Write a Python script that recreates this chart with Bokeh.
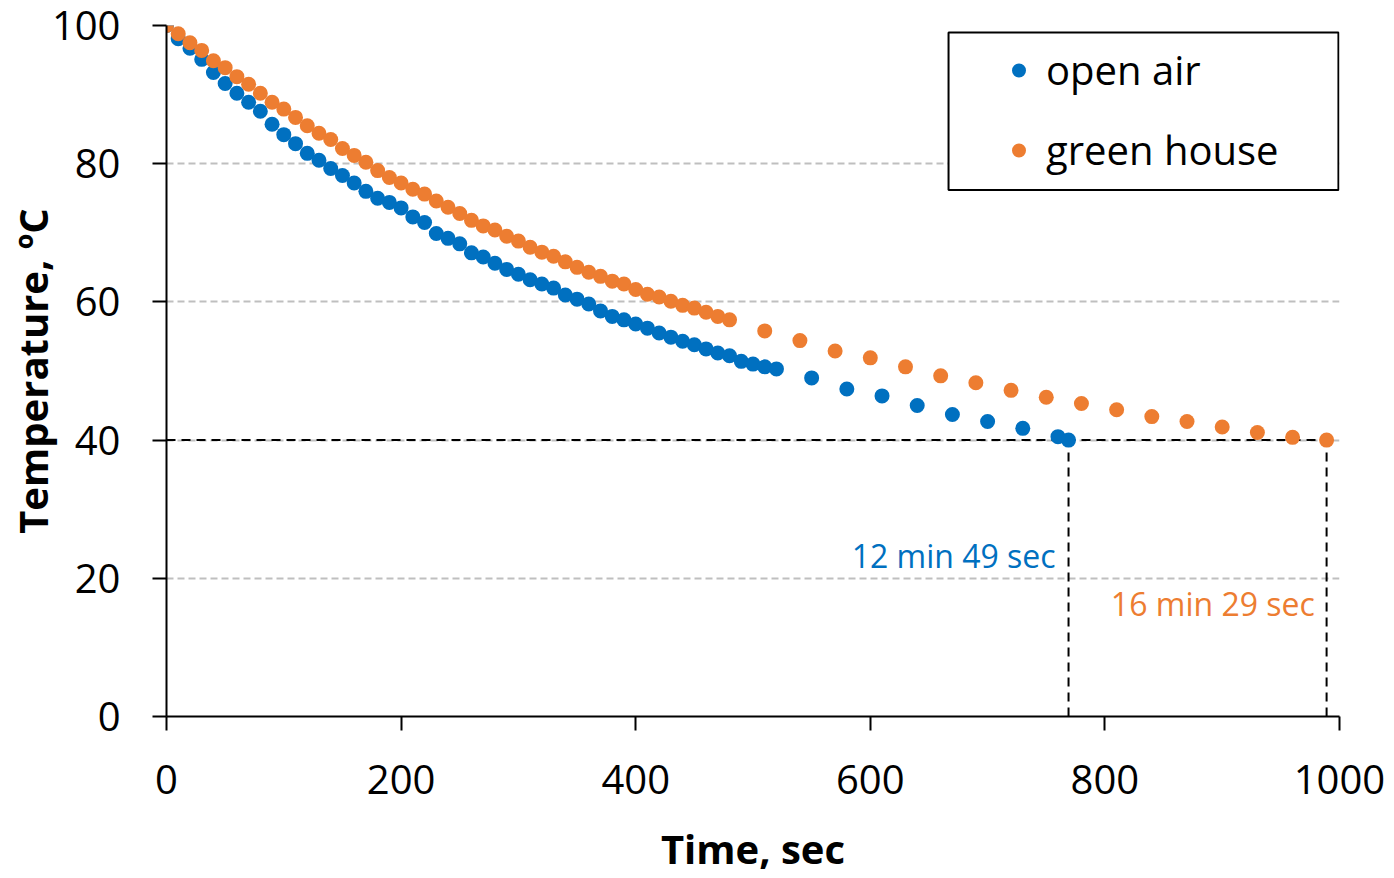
from bokeh.plotting import figure
from bokeh.models import Range1d, FixedTicker, Legend, LegendItem, BoxAnnotation
from bokeh.core.properties import value
from bokeh.embed import file_html
from bokeh.resources import INLINE

# ---- data ----
open_air_time = list(range(0, 521, 10)) + [550, 580, 610, 640, 670, 700, 730, 760, 769]
open_air_temp = [100.0, 98.1, 96.7, 95.1, 93.2, 91.6, 90.2, 88.9, 87.6, 85.7,
                 84.2, 82.9, 81.5, 80.5, 79.3, 78.3, 77.2, 76.0, 75.0, 74.4,
                 73.6, 72.3, 71.5, 69.9, 69.2, 68.4, 67.1, 66.5, 65.6, 64.7,
                 64.0, 63.2, 62.6, 62.0, 61.0, 60.4, 59.7, 58.7, 57.9, 57.4,
                 56.8, 56.2, 55.5, 54.9, 54.3, 53.8, 53.2, 52.6, 52.2, 51.4,
                 51.0, 50.6, 50.3,
                 49.0, 47.4, 46.4, 45.0, 43.7, 42.7, 41.7, 40.5, 40.0]

green_house_time = list(range(0, 481, 10)) + [510, 540, 570, 600, 630, 660, 690, 720,
                                               750, 780, 810, 840, 870, 900, 930, 960, 989]
green_house_temp = [100.0, 98.8, 97.5, 96.4, 94.9, 93.9, 92.6, 91.5, 90.2, 88.9,
                    87.9, 86.7, 85.5, 84.4, 83.5, 82.2, 81.2, 80.2, 79.0, 78.0,
                    77.2, 76.3, 75.6, 74.6, 73.7, 72.8, 71.8, 71.0, 70.4, 69.5,
                    68.8, 67.9, 67.2, 66.6, 65.8, 65.0, 64.3, 63.7, 63.0, 62.6,
                    61.8, 61.1, 60.7, 60.1, 59.5, 59.1, 58.5, 57.9, 57.4,
                    55.8, 54.4, 52.9, 51.9, 50.6, 49.3, 48.3, 47.2, 46.2,
                    45.3, 44.4, 43.4, 42.7, 41.9, 41.1, 40.4, 40.0]

threshold = 40
cross_open_air = 769      # 12 min 49 sec
cross_green_house = 989   # 16 min 29 sec
x_ticks = [0, 200, 400, 600, 800, 1000]
y_ticks = [0, 20, 40, 60, 80, 100]
x_title = "Time, sec"
y_title = "Temperature, \u00baC"

BLUE = "#0070C0"
ORANGE = "#ED7D31"
FONT = "Open Sans"

p = figure(width=1394, height=878, output_backend="svg", toolbar_location=None,
           x_range=Range1d(0, 1000), y_range=Range1d(0, 100),
           min_border_left=166, min_border_top=25, min_border_right=55,
           min_border_bottom=161)
p.outline_line_color = None

# grid
p.xgrid.grid_line_color = None
p.ygrid.ticker = FixedTicker(ticks=[20, 40, 60, 80, 100])
p.ygrid.grid_line_color = "#BFBFBF"
p.ygrid.grid_line_width = 2
p.ygrid.grid_line_dash = "7 4"

# axes
for ax in (p.xaxis[0], p.yaxis[0]):
    ax.axis_line_color = "black"
    ax.axis_line_width = 2
    ax.major_tick_line_color = "black"
    ax.major_tick_line_width = 2
    ax.major_tick_in = 0
    ax.major_tick_out = 14
    ax.minor_tick_line_color = None
    ax.major_label_text_font = FONT
    ax.major_label_text_font_size = "40px"
    ax.major_label_text_color = "black"
    ax.axis_label_text_font = FONT
    ax.axis_label_text_font_size = "40px"
    ax.axis_label_text_font_style = "bold"
    ax.axis_label_text_color = "black"

p.xaxis.ticker = FixedTicker(ticks=x_ticks)
p.yaxis.ticker = FixedTicker(ticks=y_ticks)
p.xaxis.axis_label = x_title
p.yaxis.axis_label = y_title
p.xaxis.major_label_standoff = 34
p.yaxis.major_label_standoff = 32
p.xaxis.axis_label_standoff = 24
p.yaxis.axis_label_standoff = -11

# threshold dashed lines
p.line([0, cross_green_house], [threshold, threshold], line_color="black",
       line_width=2, line_dash="9 6")
p.segment(x0=[cross_open_air, cross_green_house], y0=[0, 0],
          x1=[cross_open_air, cross_green_house], y1=[threshold, threshold],
          line_color="black", line_width=2, line_dash="9 6")

r_blue = p.scatter(open_air_time, open_air_temp, size=15, color=BLUE, line_color=None)
r_orange = p.scatter(green_house_time, green_house_temp, size=15, color=ORANGE, line_color=None)

# annotations
def mmss(s):
    return f"{s // 60} min {s % 60} sec"

p.text(x=[cross_open_air - 11], y=[23.3], text=[mmss(cross_open_air)],
       text_color=BLUE, text_font=value(FONT), text_font_size="32px",
       text_align="right", text_baseline="middle")
p.text(x=[cross_green_house - 10], y=[16.3], text=[mmss(cross_green_house)],
       text_color=ORANGE, text_font=value(FONT), text_font_size="32px",
       text_align="right", text_baseline="middle")

# legend frame
p.add_layout(BoxAnnotation(left=666.7, right=999.1, top=99.0, bottom=76.2,
                           fill_color="white", fill_alpha=1.0,
                           line_color="black", line_width=2, line_alpha=1.0))

legend = Legend(items=[LegendItem(label="open air", renderers=[r_blue]),
                       LegendItem(label="green house", renderers=[r_orange])],
                location=(835, 539))
legend.border_line_color = None
legend.background_fill_alpha = 0
legend.label_text_font = FONT
legend.label_text_font_size = "40px"
legend.label_text_color = "black"
legend.padding = 0
legend.margin = 0
legend.glyph_width = 35
legend.glyph_height = 54
legend.label_height = 54
legend.label_standoff = 10
legend.spacing = 25
p.add_layout(legend)

open("out.html", "w").write(file_html(p, INLINE))
